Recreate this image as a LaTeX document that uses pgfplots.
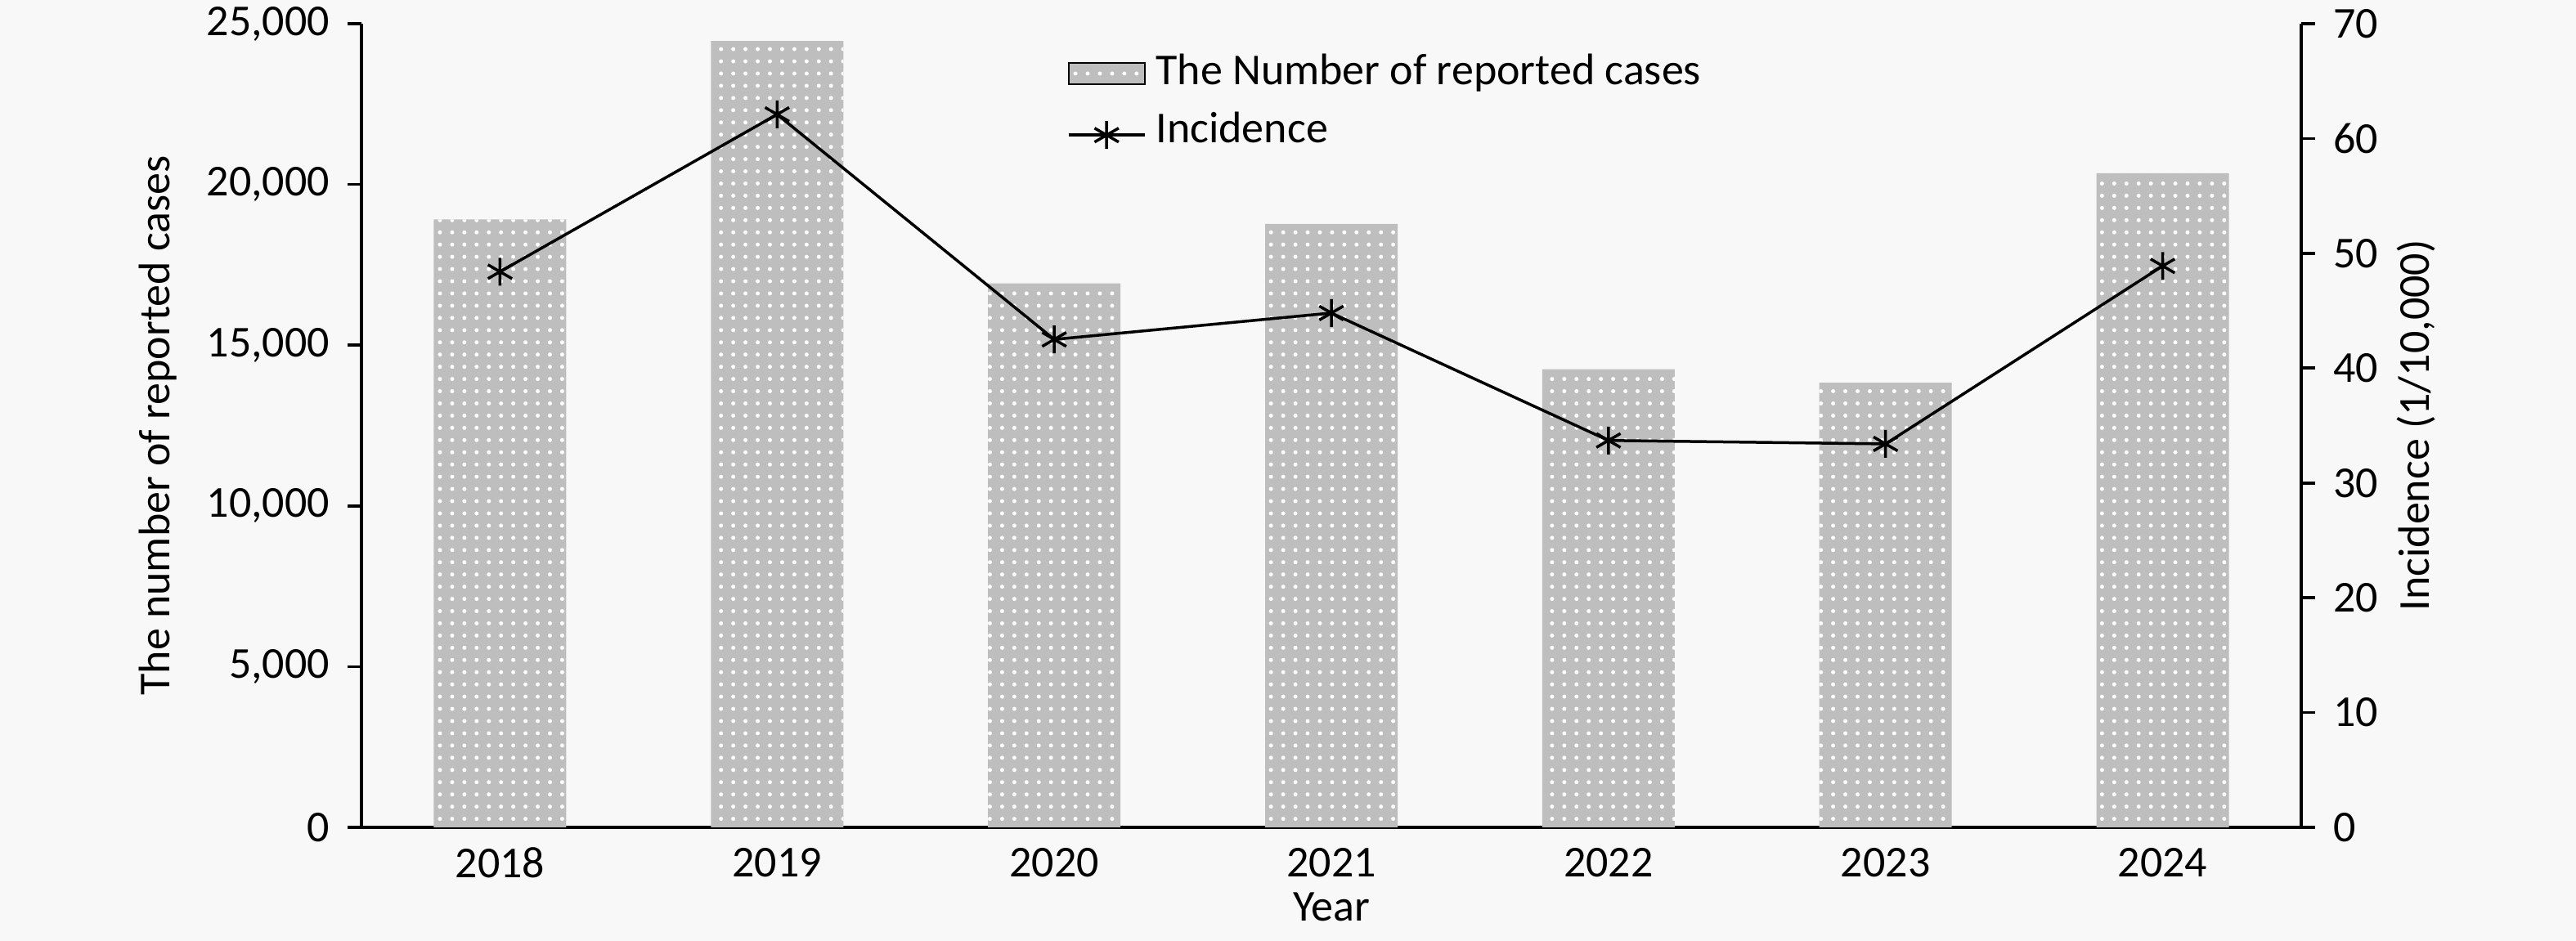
\documentclass[border=0pt]{standalone}
\usepackage{fontspec}
\setmainfont{Carlito}
\usepackage{pgfplots}
\pgfplotsset{compat=1.18}
\usetikzlibrary{patterns}

\definecolor{bg}{RGB}{248,248,248}
\definecolor{barfill}{RGB}{190,190,190}

\pgfplotsset{
  common/.style={
    scale only axis, width=474.4bp, height=196.6bp,
    at={(0,0)}, anchor=south west,
    xmin=-0.5, xmax=6.5,
    /pgf/number format/assume math mode=true,
    tick align=outside, major tick length=3.4bp,
    axis line style={line width=0.75bp, black},
    every tick/.style={line width=0.75bp, black},
    yticklabel style={inner sep=0pt},
  },
}

\begin{document}
\fontsize{10.8bp}{13bp}\selectfont
\begin{tikzpicture}
\fill[bg] (-88.4bp,-27.8bp) rectangle (541.6bp,202.4bp);
\useasboundingbox (-88.4bp,-27.8bp) rectangle (541.6bp,202.4bp);

% bars: reported cases (left axis)
\begin{axis}[common,
  axis x line*=bottom, axis y line*=left,
  ymin=0, ymax=25000, ytick={0,5000,...,25000},
  scaled y ticks=false,
  yticklabel style={/pgf/number format/fixed, /pgf/number format/1000 sep={,},
    anchor=east, xshift=-4.2bp},
  xtick={0,1,2,3,4,5,6},
  xticklabels={2018,2019,2020,2021,2022,2023,2024},
  x tick style={draw=none},
  xticklabel style={anchor=center, yshift=-5.2bp},
  xlabel={Year},
  xlabel style={at={(axis description cs:0.5,-0.0987)}, anchor=center},
  ylabel={The number of reported cases},
  ylabel style={at={(axis description cs:-0.105,0.5)}, anchor=center},
  ybar, bar width=32.4bp,
]
\addplot[fill=barfill, draw=none, postaction={pattern=dots, pattern color=white}]
  coordinates {(0,18910) (1,24460) (2,16920) (3,18770) (4,14250) (5,13830) (6,20350)};
\end{axis}

% line: incidence (right axis)
\begin{axis}[common,
  axis y line*=right, axis x line=none,
  ymin=0, ymax=70, ytick={0,10,...,70},
  yticklabel style={anchor=west, xshift=4.2bp},
  ylabel={Incidence (1/10,000)},
  ylabel style={at={(axis description cs:1.0594,0.5)}, anchor=center},
  legend style={at={(axis description cs:0.3638,0.962)}, anchor=north west,
    draw=none, fill=none, inner sep=0pt, outer sep=0pt,
    row sep=5bp, column sep=2.4bp,
    nodes={inner sep=0pt}},
  legend cell align=left,
]
\addlegendimage{legend image code/.code={
  \fill[barfill] (0bp,-2.8bp) rectangle (18.6bp,2.4bp);
  \path[pattern=dots, pattern color=white] (0bp,-2.8bp) rectangle (18.6bp,2.4bp);}}
\addlegendentry{The Number of reported cases}
\addlegendimage{legend image code/.code={
  \draw[black, line width=0.7bp] (0bp,-1.1bp) -- (18.6bp,-1.1bp);
  \draw[black, line width=0.7bp, mark=asterisk, mark size=3.4bp]
    plot coordinates {(9.3bp,-1.1bp)};}}
\addlegendentry{Incidence}
\addplot[black, line width=0.7bp, mark=asterisk, mark size=3.4bp,
  mark options={line width=0.7bp}, forget plot]
  coordinates {(0,48.4) (1,62.1) (2,42.5) (3,44.8) (4,33.7) (5,33.4) (6,48.9)};
\end{axis}
\end{tikzpicture}
\end{document}
